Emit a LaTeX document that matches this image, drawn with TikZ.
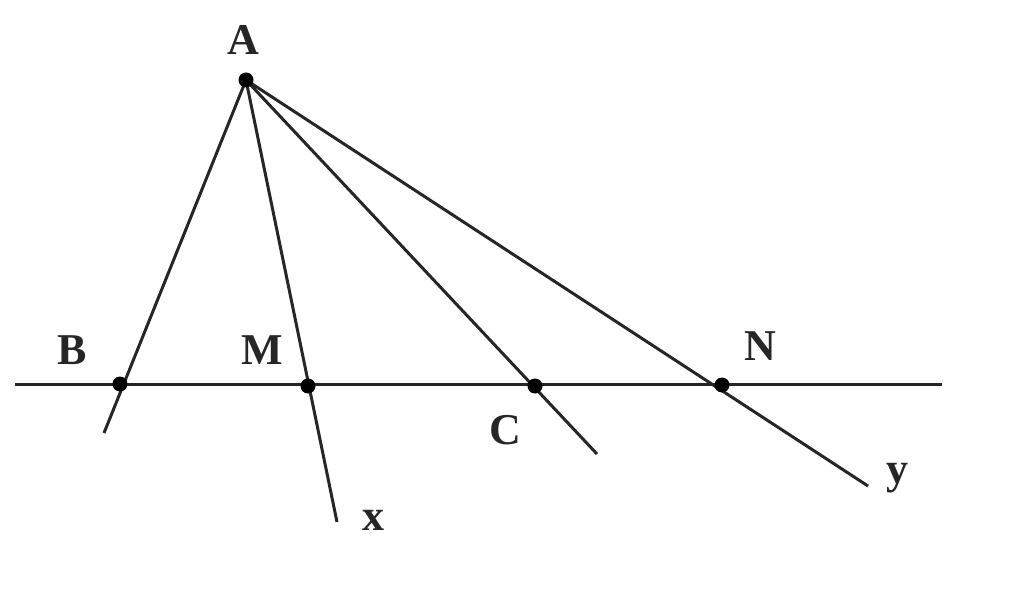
\documentclass[tikz,border=0pt]{standalone}
\usepackage{fontspec}
\setmainfont{Liberation Serif}
\begin{document}
\begin{tikzpicture}[x=1pt,y=-1pt,
  ln/.style={line width=3pt,black!85},
  dot/.style={circle,fill=black,inner sep=0pt,minimum size=15pt},
  lbl/.style={font=\fontsize{44}{50}\selectfont\bfseries,inner sep=0pt,text=black!85}]
\useasboundingbox (0,0) rectangle (1024,593);
\coordinate (A) at (246,80);
\coordinate (L) at (15,384);
\coordinate (R) at (942,384);
\coordinate (B) at (120,384);
\coordinate (M) at (308,386);
\coordinate (C) at (535,386);
\coordinate (N) at (722,385);
\coordinate (Be) at (104,433);
\coordinate (X) at (337,522);
\coordinate (Ce) at (597,454);
\coordinate (Y) at (868,486);
\draw[ln] (L) -- (R);
\draw[ln] (A) -- (Be);
\draw[ln] (A) -- (X);
\draw[ln] (A) -- (Ce);
\draw[ln] (A) -- (Y);
\foreach \p in {A,B,M,C,N} \node[dot] at (\p) {};
\node[lbl] (tA) at (243,40) {A};
\node[lbl] (tB) at (72,350) {B};
\node[lbl] (tM) at (262,350) {M};
\node[lbl] (tC) at (505,430) {C};
\node[lbl] (tN) at (760,346) {N};
\node[lbl] (tx) at (373,520) {x};
\node[lbl] (ty) at (897,478) {y};
\end{tikzpicture}
\end{document}
